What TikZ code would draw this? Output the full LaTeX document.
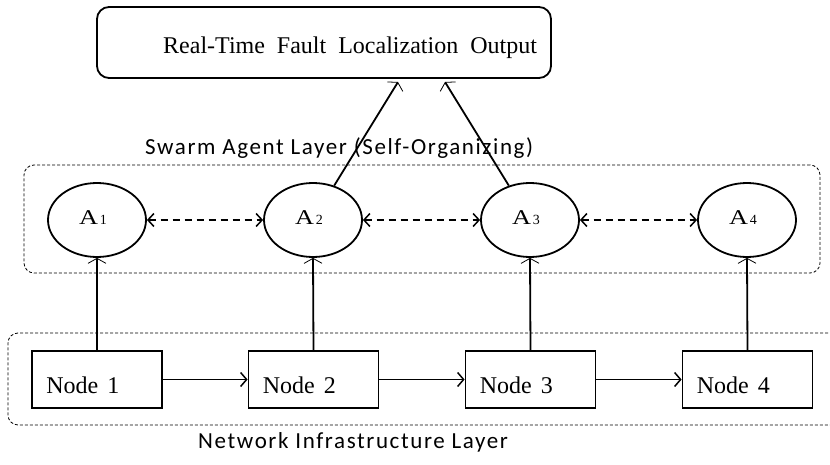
\documentclass[tikz,border=0pt]{standalone}
\usepackage{fontspec}
\setmainfont{Liberation Serif}
\newfontfamily\labfont[LetterSpace=7]{Carlito}
\usetikzlibrary{arrows.meta,shapes.geometric}
\begin{document}
\begin{tikzpicture}[x=1pt,y=-1pt,
  thickln/.style={line width=1.8pt},
  layerbox/.style={draw,dashed,line width=0.8pt,dash pattern=on 3pt off 2pt,rounded corners=10pt},
  agent/.style={draw,ellipse,line width=1.8pt,minimum width=98pt,minimum height=74pt,inner sep=0pt},
  netnode/.style={draw,rectangle,line width=1.8pt,minimum width=130pt,minimum height=57pt,inner sep=0pt},
  tip/.style={-{Straight Barb[length=5pt,width=18pt,line width=0.8pt]}},
  htip/.style={-{Straight Barb[length=6pt,width=14pt,line width=1.5pt]}},
  dtip/.style={{Straight Barb[length=6pt,width=13pt,line width=1.5pt]}-{Straight Barb[length=6pt,width=13pt,line width=1.5pt]},dash pattern=on 7pt off 5pt},
  serif/.style={font=\fontsize{24}{24}\selectfont},
  lab/.style={font=\labfont\fontsize{23}{23}\selectfont},
  alab/.style={font=\fontsize{21}{21}\selectfont}
]
\useasboundingbox (0,0) rectangle (830,465);
% layer boxes
\node[layerbox,minimum width=796pt,minimum height=108pt,inner sep=0pt] (swarm) at (422,219) {};
\node[layerbox,minimum width=840pt,minimum height=92pt,inner sep=0pt] (net) at (428,379) {};
% top output box
\node[draw,rounded corners=12pt,line width=1.8pt,minimum width=454pt,minimum height=71pt,inner sep=0pt] (out) at (324,42.5) {};
\node[serif,anchor=base west,inner sep=0pt] (outtxt) at (163,54) {Real-Time\hspace{12pt}Fault\hspace{12pt}Localization\hspace{12pt}Output};
% labels
\node[lab,anchor=base west,inner sep=0pt] (swarmlab) at (145,155) {Swarm Agent Layer (Self-Organizing)};
\node[lab,anchor=base west,inner sep=0pt] (netlab) at (198,448) {Network Infrastructure Layer};
% agents
\node[agent] (a1) at (97,220) {};
\node[agent] (a2) at (313,220) {};
\node[agent] (a3) at (530,220) {};
\node[agent] (a4) at (747,220) {};
\foreach \i/\x in {1/97,2/313,3/530,4/747}{
  \node[alab,anchor=base,inner sep=0pt] (al\i) at (\x-4,225) {\scalebox{1.25}[1]{A}{\fontsize{14}{14}\selectfont\hspace{2pt}\i}};
}
% network nodes
\node[netnode] (n1) at (97,379.5) {};
\node[netnode] (n2) at (313.5,379.5) {};
\node[netnode] (n3) at (530.5,379.5) {};
\node[netnode] (n4) at (747.5,379.5) {};
\foreach \i in {1,2,3,4}{
  \node[serif,anchor=base west,inner sep=0pt] (nt\i) at ([xshift=15pt]n\i.west |- 0,393) {Node\hspace{9pt}\i};
}
% connectors
\coordinate (t1) at (398,82);
\coordinate (t2) at (445,82);
\draw[thickln,tip] (a2) -- (t1);
\draw[thickln,tip] (a3) -- (t2);
\foreach \i in {1,2,3,4}{
  \draw[thickln,tip] (n\i.north) -- (a\i.south);
}
\draw[thickln,dtip] (a1.east) -- (a2.west);
\draw[thickln,dtip] (a2.east) -- (a3.west);
\draw[thickln,dtip] (a3.east) -- (a4.west);
\draw[thickln,htip] (n1.east) -- (n2.west);
\draw[thickln,htip] (n2.east) -- (n3.west);
\draw[thickln,htip] (n3.east) -- (n4.west);
\end{tikzpicture}
\end{document}
